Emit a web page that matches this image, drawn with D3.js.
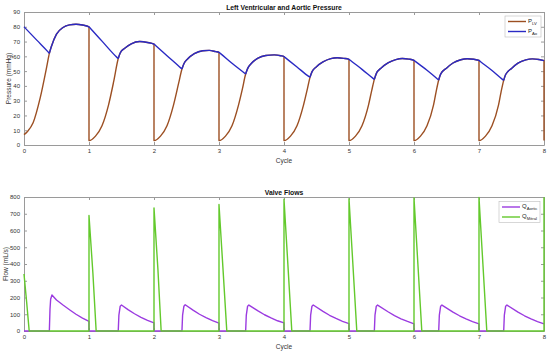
<!DOCTYPE html>
<html>
<head>
<meta charset="utf-8">
<script src="https://cdn.jsdelivr.net/npm/d3@7"></script>
<style>
  body { margin: 0; background: #fff; }
  svg { font-family: "Liberation Sans", Arial, sans-serif; }
  .axis path, .axis line { stroke: #9a9a9a; }
  .axis text { fill: #333; font-size: 6px; }
</style>
</head>
<body>
<svg id="chart"></svg>
<script>
// cycle axis + tick labels
const cycleTicks = [0, 1, 2, 3, 4, 5, 6, 7, 8];
const pressureTicks = [0, 10, 20, 30, 40, 50, 60, 70, 80, 90];
const flowTicks = [0, 100, 200, 300, 400, 500, 600, 700, 800];

// [cycle, mmHg]
const pLV = [
  [0, 7], [0.05, 9], [0.14, 15], [0.25, 32], [0.35, 53], [0.39, 62], [0.42, 66.5],
  [0.5, 75], [0.6, 79.5], [0.7, 81.3], [0.8, 81.7], [0.9, 81.2], [1, 80], [1, 3],
  [1.1, 6], [1.2, 13], [1.3, 27], [1.38, 43], [1.45, 58.5], [1.48, 62.3],
  [1.55, 65.5], [1.65, 68.5], [1.78, 70], [1.9, 69.4], [2, 68.3], [2, 3],
  [2.1, 6], [2.2, 13], [2.3, 27], [2.38, 42], [2.43, 51.4], [2.46, 55],
  [2.52, 58.3], [2.62, 61.8], [2.75, 63.8], [2.85, 64], [2.95, 63.2], [3, 62.7], [3, 3],
  [3.1, 6], [3.2, 13], [3.3, 27], [3.36, 38], [3.41, 48], [3.44, 51.7],
  [3.5, 55.3], [3.6, 58.8], [3.72, 60.6], [3.85, 61], [3.95, 60.4], [4, 59.8], [4, 3],
  [4.1, 6], [4.2, 13], [4.3, 27], [4.36, 38], [4.4, 45.8], [4.43, 49.5],
  [4.5, 53], [4.6, 56.2], [4.72, 58.4], [4.82, 59], [4.92, 58.6], [5, 58], [5, 3],
  [5.1, 6], [5.2, 13], [5.3, 27], [5.35, 37], [5.39, 44.4], [5.42, 48.3],
  [5.5, 52.3], [5.6, 55.6], [5.72, 57.8], [5.82, 58.5], [5.92, 58.1], [6, 57.3], [6, 3],
  [6.1, 6], [6.2, 13], [6.3, 27], [6.34, 36], [6.38, 44], [6.41, 48],
  [6.5, 52], [6.6, 55.5], [6.72, 57.7], [6.82, 58.4], [6.92, 58], [7, 57.2], [7, 3],
  [7.1, 6], [7.2, 13], [7.3, 27], [7.34, 36], [7.38, 43.7], [7.41, 47.7],
  [7.5, 51.8], [7.6, 55.4], [7.72, 57.6], [7.82, 58.3], [7.92, 57.9], [8, 57.1], [8, 3]
];

const pAo = [
  [0, 80], [0.2, 70.8], [0.37, 63], [0.39, 62], [0.42, 66.5],
  [0.5, 75], [0.6, 79.5], [0.7, 81.3], [0.8, 81.7], [0.9, 81.2], [1, 80],
  [1.02, 79.05], [1.2, 70.3], [1.43, 59.3], [1.45, 58.5], [1.48, 62.3],
  [1.55, 65.5], [1.65, 68.5], [1.78, 70], [1.9, 69.4], [2, 68.3],
  [2.02, 67.5], [2.2, 60.4], [2.41, 52.2], [2.43, 51.4], [2.46, 55],
  [2.52, 58.3], [2.62, 61.8], [2.75, 63.8], [2.85, 64], [2.95, 63.2], [3, 62.7],
  [3.02, 62], [3.2, 55.3], [3.39, 48.7], [3.41, 48], [3.44, 51.7],
  [3.5, 55.3], [3.6, 58.8], [3.72, 60.6], [3.85, 61], [3.95, 60.4], [4, 59.8],
  [4.02, 59.1], [4.2, 52.8], [4.38, 46.4], [4.4, 45.8], [4.43, 49.5],
  [4.5, 53], [4.6, 56.2], [4.72, 58.4], [4.82, 59], [4.92, 58.6], [5, 58],
  [5.02, 57.3], [5.2, 51.2], [5.37, 45.1], [5.39, 44.4], [5.42, 48.3],
  [5.5, 52.3], [5.6, 55.6], [5.72, 57.8], [5.82, 58.5], [5.92, 58.1], [6, 57.3],
  [6.02, 56.6], [6.2, 50.6], [6.36, 44.7], [6.38, 44], [6.41, 48],
  [6.5, 52], [6.6, 55.5], [6.72, 57.7], [6.82, 58.4], [6.92, 58], [7, 57.2],
  [7.02, 56.5], [7.2, 50.4], [7.36, 44.4], [7.38, 43.7], [7.41, 47.7],
  [7.5, 51.8], [7.6, 55.4], [7.72, 57.6], [7.82, 58.3], [7.92, 57.9], [8, 57.1]
];

// [cycle, mL/s]
const qAortic = [
  [0, 0], [0.39, 0], [0.4, 130], [0.41, 190], [0.43, 215], [0.5, 185], [0.6, 155],
  [0.7, 127], [0.8, 100], [0.9, 77], [1, 57], [1, 0],
  [1.45, 0], [1.46, 95], [1.48, 148], [1.5, 155], [1.6, 128], [1.7, 103],
  [1.8, 82], [1.9, 63], [2, 48], [2, 0],
  [2.43, 0], [2.44, 95], [2.46, 148], [2.48, 157], [2.6, 125], [2.7, 100],
  [2.8, 80], [2.9, 62], [3, 47], [3, 0],
  [3.41, 0], [3.42, 95], [3.44, 148], [3.46, 155], [3.6, 120], [3.7, 97],
  [3.8, 78], [3.9, 61], [4, 48], [4, 0],
  [4.4, 0], [4.41, 95], [4.43, 148], [4.45, 155], [4.6, 117], [4.7, 94],
  [4.8, 75], [4.9, 58], [5, 44], [5, 0],
  [5.39, 0], [5.4, 95], [5.42, 148], [5.44, 155], [5.6, 115], [5.7, 92],
  [5.8, 73], [5.9, 57], [6, 43], [6, 0],
  [6.38, 0], [6.39, 95], [6.41, 148], [6.43, 155], [6.6, 113], [6.7, 91],
  [6.8, 72], [6.9, 56], [7, 42], [7, 0],
  [7.38, 0], [7.39, 95], [7.41, 148], [7.43, 155], [7.6, 113], [7.7, 91],
  [7.8, 72], [7.9, 56], [8, 42]
];

const qMitral = [
  [0, 340], [0.04, 175], [0.08, 0],
  [1, 0], [1, 690], [1.06, 345], [1.11, 0],
  [2, 0], [2, 735], [2.06, 370], [2.11, 0],
  [3, 0], [3, 755], [3.06, 380], [3.12, 0],
  [4, 0], [4, 787], [4.06, 395], [4.12, 0],
  [5, 0], [5, 790], [5.06, 397], [5.12, 0],
  [6, 0], [6, 794], [6.06, 399], [6.12, 0],
  [7, 0], [7, 797], [7.06, 400], [7.12, 0],
  [8, 0], [8, 798]
];

const width = 550,
      height = 354,
      left = 24,
      right = 544,
      svg = d3.select('#chart')
              .attr('width', width)
              .attr('height', height);

const colLV = '#9c4f22',
      colAo = '#2a2ac4',
      colAortic = '#9b3be0',
      colMitral = '#63c92c';

function panel(y0, y1, yDomain, yTicks, title, yLabel, labelX) {
  const x = d3.scaleLinear().domain([0, 8]).range([left, right]);
  const y = d3.scaleLinear().domain(yDomain).range([y1, y0]);

  const g = svg.append('g');

  g.append('g').attr('class', 'axis')
    .attr('transform', `translate(0,${y1})`)
    .call(d3.axisBottom(x).tickValues(cycleTicks).tickSizeInner(-3).tickSizeOuter(0).tickPadding(4));
  g.append('g').attr('class', 'axis')
    .attr('transform', `translate(0,${y0})`)
    .call(d3.axisTop(x).tickValues(cycleTicks).tickSizeInner(-3).tickSizeOuter(0).tickFormat(''));
  g.append('g').attr('class', 'axis')
    .attr('transform', `translate(${left},0)`)
    .call(d3.axisLeft(y).tickValues(yTicks).tickSizeInner(-3).tickSizeOuter(0).tickPadding(4));
  g.append('g').attr('class', 'axis')
    .attr('transform', `translate(${right},0)`)
    .call(d3.axisRight(y).tickValues(yTicks).tickSizeInner(-3).tickSizeOuter(0).tickFormat(''));

  g.append('text')
    .attr('x', (left + right) / 2).attr('y', y0 - 2.5)
    .attr('text-anchor', 'middle')
    .attr('font-size', '6.8px').attr('font-weight', 'bold').attr('fill', '#111')
    .text(title);

  g.append('text')
    .attr('x', (left + right) / 2).attr('y', y1 + 18)
    .attr('text-anchor', 'middle')
    .attr('font-size', '6.5px').attr('fill', '#333')
    .text('Cycle');

  g.append('text')
    .attr('transform', `translate(${labelX},${(y0 + y1) / 2}) rotate(-90)`)
    .attr('text-anchor', 'middle')
    .attr('font-size', '6.5px').attr('fill', '#333')
    .text(yLabel);

  return { x, y, g };
}

// break a series at sharp local minima so the smoothing keeps the corner
function splitAtCorners(data) {
  const runs = [];
  let run = [data[0]];
  for (let i = 1; i < data.length; i++) {
    run.push(data[i]);
    const prev = data[i - 1], next = data[i + 1];
    if (next && prev[0] !== data[i][0] && next[0] !== data[i][0] &&
        data[i][1] < prev[1] && next[1] > data[i][1]) {
      runs.push(run);
      run = [data[i]];
    }
  }
  runs.push(run);
  return runs;
}

function drawLine(p, data, color, curve) {
  const line = d3.line()
    .x((d) => p.x(d[0]))
    .y((d) => p.y(d[1]))
    .curve(curve);
  const path = splitAtCorners(data).map((r) => line(r)).join('');
  p.g.append('path')
    .attr('d', path)
    .attr('fill', 'none')
    .attr('stroke', color)
    .attr('stroke-width', 1.4)
    .attr('stroke-linejoin', 'round');
}

function legend(p, lx, ly, w, h, items) {
  const lg = p.g.append('g').attr('transform', `translate(${lx},${ly})`);
  lg.append('rect')
    .attr('width', w).attr('height', h)
    .attr('fill', '#fff').attr('stroke', '#bdbdbd').attr('stroke-width', 0.6);
  items.forEach((it, i) => {
    const yy = 5.5 + i * 10;
    lg.append('line')
      .attr('x1', 3).attr('x2', 21).attr('y1', yy).attr('y2', yy)
      .attr('stroke', it.color).attr('stroke-width', 1.4);
    const t = lg.append('text')
      .attr('x', 23).attr('y', yy + 1)
      .attr('font-size', '6px').attr('fill', '#222');
    t.append('tspan').text(it.main);
    t.append('tspan').attr('font-size', '4.2px').attr('dy', 2).text(it.sub);
  });
}

// pressure panel
const pressurePanel = panel(12, 145, [0, 90], pressureTicks, 'Left Ventricular and Aortic Pressure', 'Pressure (mmHg)', 11);
drawLine(pressurePanel, pLV, colLV, d3.curveMonotoneX);
drawLine(pressurePanel, pAo, colAo, d3.curveMonotoneX);
legend(pressurePanel, 505, 16, 36, 21, [
  { main: 'P', sub: 'LV', color: colLV },
  { main: 'P', sub: 'Ao', color: colAo }
]);

// flow panel
const flowPanel = panel(197, 331, [0, 800], flowTicks, 'Valve Flows', 'Flow (mL/s)', 7.5);
drawLine(flowPanel, qAortic, colAortic, d3.curveLinear);
drawLine(flowPanel, qMitral, colMitral, d3.curveLinear);
legend(flowPanel, 499, 201.5, 41, 21, [
  { main: 'Q', sub: 'Aortic', color: colAortic },
  { main: 'Q', sub: 'Mitral', color: colMitral }
]);
</script>
</body>
</html>
